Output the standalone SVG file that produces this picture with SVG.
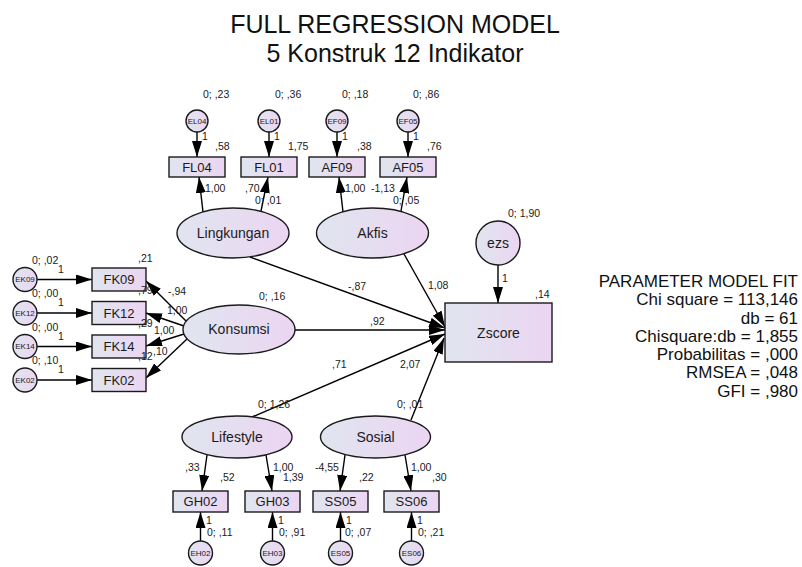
<svg xmlns="http://www.w3.org/2000/svg" width="802" height="567" viewBox="0 0 802 567">
<defs>
<linearGradient id="g" x1="0" y1="0" x2="1" y2="0">
<stop offset="0" stop-color="#e0e5ef"/>
<stop offset="1" stop-color="#ecd5f2"/>
</linearGradient>
<marker id="ah" markerUnits="userSpaceOnUse" markerWidth="16" markerHeight="10" viewBox="0 0 16 10" refX="16" refY="5" orient="auto">
<path d="M0,0 L16,5 L0,10 z" fill="#000"/>
</marker>
</defs>
<style>
.n{fill:url(#g);stroke:#1a1a1a;stroke-width:1.4}
.t{font-family:"Liberation Sans",Arial,sans-serif;fill:#1a1a1a;text-anchor:middle}
.lat{font-size:14px}
.obs{font-size:13px}
.err{font-size:8px}
.lb{font-family:"Liberation Sans",Arial,sans-serif;font-size:10.5px;fill:#1a1a1a}
.c line{stroke:#000;stroke-width:1.4;marker-end:url(#ah)}
.ti{font-family:"Liberation Sans",Arial,sans-serif;font-size:25px;fill:#111;text-anchor:middle}
.fit{font-family:"Liberation Sans",Arial,sans-serif;font-size:17px;fill:#111;text-anchor:end}
</style>
<rect width="802" height="567" fill="#fff"/>
<g id="title">
<text class="ti" x="395" y="33">FULL REGRESSION MODEL</text>
<text class="ti" x="395" y="62">5 Konstruk 12 Indikator</text>
</g>
<g id="connectors" class="c">
<line x1="197" y1="132" x2="197" y2="157"/>
<line x1="269" y1="132" x2="269" y2="157"/>
<line x1="337" y1="132" x2="337" y2="157"/>
<line x1="408" y1="132" x2="408" y2="157"/>
<line x1="203" y1="212" x2="199" y2="177"/>
<line x1="261" y1="211" x2="268" y2="177"/>
<line x1="343" y1="212" x2="339" y2="177"/>
<line x1="401" y1="211" x2="407" y2="177"/>
<line x1="37" y1="279.5" x2="92" y2="279.5"/>
<line x1="37" y1="313" x2="92" y2="313"/>
<line x1="37" y1="346.5" x2="92" y2="346.5"/>
<line x1="37" y1="380" x2="92" y2="380"/>
<line x1="186" y1="321" x2="146" y2="281"/>
<line x1="184" y1="326" x2="146" y2="313"/>
<line x1="184" y1="334" x2="146" y2="346"/>
<line x1="187" y1="339" x2="146" y2="378"/>
<line x1="498" y1="265" x2="498" y2="303"/>
<line x1="250" y1="257" x2="445" y2="328"/>
<line x1="404" y1="254" x2="445" y2="327"/>
<line x1="295" y1="330" x2="445" y2="330"/>
<line x1="252" y1="417" x2="445" y2="334"/>
<line x1="411" y1="420" x2="444" y2="338"/>
<line x1="207" y1="455" x2="202" y2="491"/>
<line x1="266" y1="455" x2="272" y2="491"/>
<line x1="345" y1="455" x2="340" y2="491"/>
<line x1="405" y1="455" x2="411" y2="491"/>
<line x1="200.5" y1="541" x2="200.5" y2="512"/>
<line x1="272.5" y1="541" x2="272.5" y2="512"/>
<line x1="340.5" y1="541" x2="340.5" y2="512"/>
<line x1="411.5" y1="541" x2="411.5" y2="512"/>
</g>
<g id="EL04"><circle class="n" cx="197" cy="121" r="11"/><text class="t err" x="197" y="123.8">EL04</text></g>
<g id="EL01"><circle class="n" cx="269" cy="121" r="11"/><text class="t err" x="269" y="123.8">EL01</text></g>
<g id="EF09"><circle class="n" cx="337" cy="121" r="11"/><text class="t err" x="337" y="123.8">EF09</text></g>
<g id="EF05"><circle class="n" cx="408" cy="121" r="11"/><text class="t err" x="408" y="123.8">EF05</text></g>
<g id="FL04"><rect class="n" x="169" y="157" width="56" height="20"/><text class="t obs" x="197" y="171.5">FL04</text></g>
<g id="FL01"><rect class="n" x="241" y="157" width="56" height="20"/><text class="t obs" x="269" y="171.5">FL01</text></g>
<g id="AF09"><rect class="n" x="309" y="157" width="56" height="20"/><text class="t obs" x="337" y="171.5">AF09</text></g>
<g id="AF05"><rect class="n" x="380" y="157" width="56" height="20"/><text class="t obs" x="408" y="171.5">AF05</text></g>
<g id="Lingkungan"><ellipse class="n" cx="233" cy="233" rx="56" ry="25"/><text class="t lat" x="233" y="238">Lingkungan</text></g>
<g id="Akfis"><ellipse class="n" cx="372.5" cy="233" rx="56" ry="25"/><text class="t lat" x="372.5" y="238">Akfis</text></g>
<g id="ezs"><circle class="n" cx="498" cy="243" r="22"/><text class="t lat" x="498" y="248">ezs</text></g>
<g id="Zscore"><rect class="n" x="445" y="303" width="107" height="59"/><text class="t lat" x="498.5" y="338">Zscore</text></g>
<g id="Konsumsi"><ellipse class="n" cx="239" cy="329.5" rx="56" ry="24.5"/><text class="t lat" x="239" y="334">Konsumsi</text></g>
<g id="EK09"><circle class="n" cx="25" cy="279.5" r="12"/><text class="t err" x="25" y="282.3">EK09</text></g>
<g id="EK12"><circle class="n" cx="25" cy="313" r="12"/><text class="t err" x="25" y="315.8">EK12</text></g>
<g id="EK14"><circle class="n" cx="25" cy="346.5" r="12"/><text class="t err" x="25" y="349.3">EK14</text></g>
<g id="EK02"><circle class="n" cx="25" cy="380" r="12"/><text class="t err" x="25" y="382.8">EK02</text></g>
<g id="FK09"><rect class="n" x="92" y="268" width="54" height="23"/><text class="t obs" x="119" y="284">FK09</text></g>
<g id="FK12"><rect class="n" x="92" y="301.5" width="54" height="23"/><text class="t obs" x="119" y="317.5">FK12</text></g>
<g id="FK14"><rect class="n" x="92" y="335" width="54" height="23"/><text class="t obs" x="119" y="351">FK14</text></g>
<g id="FK02"><rect class="n" x="92" y="368.5" width="54" height="23"/><text class="t obs" x="119" y="384.5">FK02</text></g>
<g id="Lifestyle"><ellipse class="n" cx="237" cy="437" rx="55" ry="21"/><text class="t lat" x="237" y="442">Lifestyle</text></g>
<g id="Sosial"><ellipse class="n" cx="375.5" cy="437" rx="55" ry="21"/><text class="t lat" x="375.5" y="442">Sosial</text></g>
<g id="GH02"><rect class="n" x="173" y="491" width="55" height="21"/><text class="t obs" x="200.5" y="506">GH02</text></g>
<g id="GH03"><rect class="n" x="245" y="491" width="55" height="21"/><text class="t obs" x="272.5" y="506">GH03</text></g>
<g id="SS05"><rect class="n" x="313" y="491" width="55" height="21"/><text class="t obs" x="340.5" y="506">SS05</text></g>
<g id="SS06"><rect class="n" x="384" y="491" width="55" height="21"/><text class="t obs" x="411.5" y="506">SS06</text></g>
<g id="EH02"><circle class="n" cx="200.5" cy="553" r="12"/><text class="t err" x="200.5" y="555.8">EH02</text></g>
<g id="EH03"><circle class="n" cx="272.5" cy="553" r="12"/><text class="t err" x="272.5" y="555.8">EH03</text></g>
<g id="ES05"><circle class="n" cx="340.5" cy="553" r="12"/><text class="t err" x="340.5" y="555.8">ES05</text></g>
<g id="ES06"><circle class="n" cx="411.5" cy="553" r="12"/><text class="t err" x="411.5" y="555.8">ES06</text></g>
<g id="estimates" class="lb">
<text x="203" y="98">0; ,23</text>
<text x="275" y="98">0; ,36</text>
<text x="342" y="98">0; ,18</text>
<text x="413" y="98">0; ,86</text>
<text x="202" y="140">1</text>
<text x="274" y="140">1</text>
<text x="342" y="140">1</text>
<text x="413" y="140">1</text>
<text x="215" y="150">,58</text>
<text x="288" y="150">1,75</text>
<text x="357" y="150">,38</text>
<text x="427" y="150">,76</text>
<text x="205" y="192">1,00</text>
<text x="245" y="192">,70</text>
<text x="255" y="204">0; ,01</text>
<text x="345" y="192">1,00</text>
<text x="371" y="192">-1,13</text>
<text x="393" y="204">0; ,05</text>
<text x="508" y="217">0; 1,90</text>
<text x="502" y="282">1</text>
<text x="535" y="298">,14</text>
<text x="32" y="264">0; ,02</text>
<text x="32" y="297">0; ,00</text>
<text x="32" y="331">0; ,00</text>
<text x="32" y="364">0; ,10</text>
<text x="58" y="273">1</text>
<text x="58" y="306">1</text>
<text x="58" y="340">1</text>
<text x="58" y="373">1</text>
<text x="138" y="262">,21</text>
<text x="138" y="294">,79</text>
<text x="138" y="327">,29</text>
<text x="138" y="360">,12</text>
<text x="168" y="295">-,94</text>
<text x="167" y="314">1,00</text>
<text x="154" y="334">1,00</text>
<text x="153" y="355">,10</text>
<text x="259" y="300">0; ,16</text>
<text x="348" y="290">-,87</text>
<text x="428" y="289">1,08</text>
<text x="370" y="325">,92</text>
<text x="332" y="368">,71</text>
<text x="400" y="368">2,07</text>
<text x="258" y="408">0; 1,26</text>
<text x="397" y="408">0; ,01</text>
<text x="185" y="471">,33</text>
<text x="220" y="481">,52</text>
<text x="273" y="471">1,00</text>
<text x="283" y="481">1,39</text>
<text x="315" y="471">-4,55</text>
<text x="359" y="481">,22</text>
<text x="411" y="471">1,00</text>
<text x="432" y="481">,30</text>
<text x="206" y="524">1</text>
<text x="278" y="524">1</text>
<text x="346" y="524">1</text>
<text x="417" y="524">1</text>
<text x="207" y="536">0; ,11</text>
<text x="279" y="536">0; ,91</text>
<text x="345" y="536">0; ,07</text>
<text x="418" y="536">0; ,21</text>
</g>
<g id="fit">
<text class="fit" x="798" y="287">PARAMETER MODEL FIT</text>
<text class="fit" x="798" y="305">Chi square = 113,146</text>
<text class="fit" x="798" y="323.5">db = 61</text>
<text class="fit" x="798" y="341.5">Chisquare:db = 1,855</text>
<text class="fit" x="798" y="360">Probabilitas = ,000</text>
<text class="fit" x="798" y="378">RMSEA = ,048</text>
<text class="fit" x="798" y="396.5">GFI = ,980</text>
</g>
</svg>
